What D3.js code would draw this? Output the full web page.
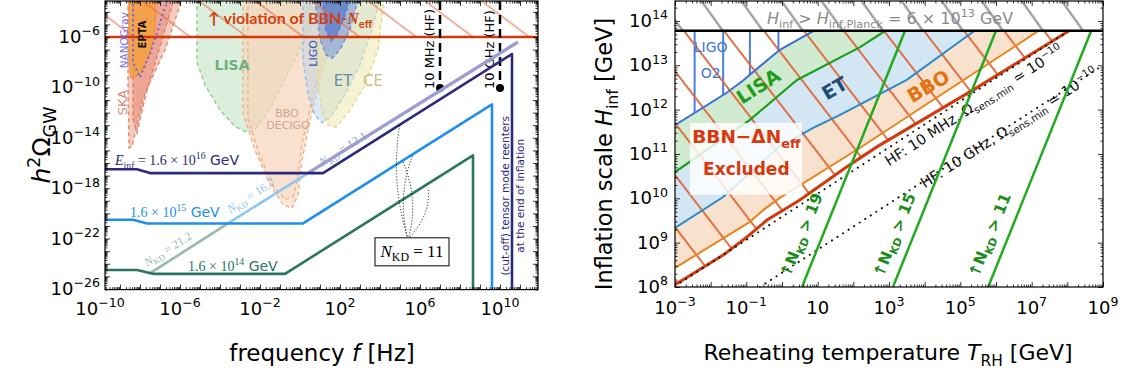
<!DOCTYPE html>
<html>
<head>
<meta charset="utf-8">
<script src="https://cdn.jsdelivr.net/npm/d3@7"></script>
<style>
  body { margin: 0; background: #fff; }
  text { font-family: "DejaVu Sans", sans-serif; white-space: pre; }
  .serif { font-family: "Liberation Serif", "DejaVu Serif", serif; }
  .lato { font-family: "Lato", "DejaVu Sans", sans-serif; }
</style>
</head>
<body>
<svg id="fig" width="1128" height="376"></svg>
<script>
// ---------- left panel: h^2 Omega_GW vs f (all values are log10) ----------
const freqDomain = [-9.75, 11.9];
const omegaDomain = [-26.05, -3.14];
const freqTickExp = [-10, -6, -2, 2, 6, 10];
const omegaTickExp = [-26, -22, -18, -14, -10, -6];
const bbnOmegaExp = -6;
const hfFreqExp = [7, 10];
const hfLabels = ["10 MHz (HF)", "10 GHz (HF)"];
const hfDotOmegaExp = -10.05;

const specE16 = [[-9.75,-16.5],[-8.15,-16.5],[-7.5,-16.8],[1.15,-16.8],[10.6,-7.35],[10.6,-27]];
const specE15 = [[-9.75,-20.5],[-8.35,-20.5],[-7.65,-20.8],[0.15,-20.8],[9.6,-11.35],[9.6,-27]];
const specE14 = [[-9.75,-24.5],[-8.15,-24.5],[-7.35,-24.8],[-0.75,-24.8],[8.65,-15.4],[8.65,-27]];
const kdLine212 = [[-7.55,-24.8],[-3.6,-20.8]];
const kdLine167 = [[-3.6,-20.8],[0.4,-16.8]];
const kdLine121 = [[0.4,-16.8],[10.9,-6.4]];

// sensitivity curves (log10 f, log10 h^2 Omega)
const skaOuter = [[-8.6,-3],[-8.6,-10],[-8.55,-14.8],[-8.4,-14.7],[-7.85,-10.8],[-6.75,-7.0],[-5.9,-3]];
const skaInner = [[-8.35,-3],[-8.35,-12.5],[-8.15,-13.6],[-7.7,-10.5],[-6.9,-6.2],[-6.3,-3]];
const epta = [[-8.55,-3],[-8.55,-7.8],[-8.45,-9.25],[-8.0,-9.0],[-7.5,-7.4],[-7.25,-5.4],[-7.2,-3]];
const nanograv = [[-8.35,-3],[-8.35,-8.0],[-8.0,-9.2],[-7.5,-7.3],[-7.15,-5.7],[-6.85,-4.1],[-6.6,-3]];
const lisaL = [[-5.15,-3],[-5.15,-8.0],[-4.75,-9.8],[-4.0,-11.8],[-3.25,-13.1],[-2.65,-13.55],[-2.25,-13.4],[-1.9,-12.6],[-1.4,-11.4],[-0.75,-9.3],[0.0,-7.0],[0.9,-4.2],[1.3,-3]];
const bboL = [[-2.85,-3],[-2.85,-12.0],[-2.25,-15.0],[-1.5,-17.7],[-0.85,-19.3],[-0.4,-19.6],[-0.1,-18.5],[0.1,-15.8],[0.5,-12.6],[1.0,-9.4],[1.75,-5.4],[2.25,-3]];
const decigoL = [[-2.6,-3],[-2.6,-12.5],[-2.0,-15.5],[-1.3,-17.9],[-0.75,-18.9],[-0.35,-18.7],[-0.15,-17.5],[0.1,-14.5],[0.6,-11],[1.2,-7.5],[1.8,-3]];
const etL = [[0.15,-3],[0.15,-7.8],[0.4,-10.6],[0.75,-12.2],[1.1,-12.8],[1.5,-12.4],[2.25,-10.6],[3.0,-8.2],[3.6,-5.4],[4.0,-3]];
const ceL = [[0.9,-3],[0.9,-9.4],[1.1,-11.8],[1.4,-13.0],[1.8,-13.15],[2.5,-11.8],[3.25,-9.8],[3.9,-7.0],[4.2,-3]];
const ligoOuter = [[0.75,-3],[1.0,-6.2],[1.3,-7.4],[1.6,-7.7],[2.0,-7.0],[2.5,-5.4],[2.9,-3]];
const ligoInner = [[1.1,-3],[1.3,-5.5],[1.55,-6.3],[1.85,-5.8],[2.2,-4.5],[2.5,-3]];

const nkdBoxAt = [5.6, -23.05];
const nkdArcFrom = [5.4, -22.05];
const nkdArcTo = [[5.0,-12.9],[5.15,-15.9],[5.65,-15.3],[6.4,-17.95]];

// ---------- right panel: H_inf vs T_RH (log10 GeV) ----------
const trhDomain = [-3, 9];
const hinfDomain = [8, 14.45];
const trhTickExp = [-3, -1, 1, 3, 5, 7, 9];
const hinfTickExp = [8, 9, 10, 11, 12, 13, 14];
const hPlanckExp = 13.78;
const ligoO2 = [[-3,11.65],[-1.55,12.38],[-1.1,12.65],[-0.81,12.85],[-0.06,13.35],[0.9,13.78]];
const ligoHatchT = [-2.45, -1.65, -0.9, -0.1];
const lisaR = [[-3,10.59],[-0.9,11.77],[0.42,12.67],[2.19,13.41],[2.9,13.78]];
const etR = [[-3,9.33],[-1.65,10.03],[-0.1,11.15],[0.9,11.6],[1.63,11.88],[3.5,12.67],[5.4,13.78]];
const bboR = [[-3,8.43],[-0.9,9.47],[-0.5,9.75],[-0.06,10.01],[2.19,11.14],[7.2,13.78]];
const bbnR = [[-3,8.05],[-1.65,8.72],[-0.98,9.13],[-0.42,9.51],[0.5,9.96],[1.82,10.71],[2.66,11.16],[5.35,12.44],[8.05,13.78]];
const hf10MHz = [[-3,8.02],[8.05,13.78]];
const hf10GHz = [[-0.62,8.0],[9.0,13.0]];
const hfTextAt = [[3.0,10.72],[4.0,10.22]];
const hfTextLabel = ["HF: 10 MHz, \u03a9", "HF: 10 GHz, \u03a9"];
const nkdCutLabels = ["19", "15", "11"];
const nkdCutT0 = [0.56, 3.11, 5.78];
const nkdCutT1 = [3.45, 6.0, 8.67];
const nkdCutTextT = [0.22, 2.83, 5.5];

const svg = d3.select("#fig");
const defs = svg.append("defs");

function hatch(id, spacing, angle, color, width) {
  const p = defs.append("pattern").attr("id", id)
    .attr("patternUnits", "userSpaceOnUse")
    .attr("width", 10).attr("height", spacing)
    .attr("patternTransform", `rotate(${angle})`);
  p.append("line").attr("x1", 0).attr("x2", 10)
    .attr("y1", spacing / 2).attr("y2", spacing / 2)
    .attr("stroke", color).attr("stroke-width", width);
}
hatch("hatchL", 34, 37, "#e2653f", 1);
hatch("hatchGrey", 32.6, 54.5, "#8d8d8d", 2);
hatch("hatchRed", 31.7, 52.4, "#e06a3e", 1.9);

// text with sub/superscripts
function rich(g, parts, size) {
  const t = g.append("text").attr("font-size", size);
  let cur = 0;
  parts.forEach(p => {
    const s = Array.isArray(p) ? p[0] : p, k = Array.isArray(p) ? p[1] : "";
    let off = 0, fs = size;
    if (k.includes("sub")) { off = 0.25 * size; fs = 0.7 * size; }
    if (k.includes("sup")) { off = -0.42 * size; fs = 0.7 * size; }
    const ts = t.append("tspan").attr("dy", off - cur).attr("font-size", fs).text(s);
    if (k.includes("it")) ts.attr("font-style", "italic");
    if (k.includes("serif")) ts.attr("class", "serif");
    cur = off;
  });
  return t;
}

function frame(x, y, xd, yd) {
  const [x0, x1] = x.range(), [yb, yt] = y.range();
  const g = svg.append("g");
  const minors = d => {
    const out = [];
    d3.range(Math.floor(d[0]), Math.ceil(d[1])).forEach(e =>
      d3.range(2, 10).forEach(k => { const v = e + Math.log10(k); if (v > d[0] && v < d[1]) out.push(v); }));
    return out;
  };
  const majors = d => d3.range(Math.ceil(d[0]), Math.floor(d[1]) + 1);
  const sides = [
    [d3.axisBottom(x), `translate(0,${yb})`, xd], [d3.axisTop(x), `translate(0,${yt})`, xd],
    [d3.axisLeft(y), `translate(${x0},0)`, yd], [d3.axisRight(y), `translate(${x1},0)`, yd]
  ];
  sides.forEach(([ax, tr, d]) => {
    g.append("g").attr("transform", tr)
      .call(ax.tickValues(majors(d)).tickSizeInner(-5).tickSizeOuter(0).tickFormat(""))
      .call(s => s.select(".domain").remove());
    g.append("g").attr("transform", tr)
      .call(ax.tickValues(minors(d)).tickSizeInner(-2.5).tickSizeOuter(0).tickFormat(""))
      .call(s => s.select(".domain").remove());
  });
  g.selectAll(".tick line").attr("stroke", "#000").attr("stroke-width", 0.8);
  g.append("rect").attr("x", x0).attr("y", yt).attr("width", x1 - x0).attr("height", yb - yt)
    .attr("fill", "none").attr("stroke", "#000").attr("stroke-width", 1.2);
}

// ================= LEFT PANEL =================
const xL = d3.scaleLinear().domain(freqDomain).range([105, 538]);
const yL = d3.scaleLinear().domain(omegaDomain).range([289.6, 1]);
defs.append("clipPath").attr("id", "clipL").append("rect")
  .attr("x", xL.range()[0]).attr("y", yL.range()[1])
  .attr("width", xL.range()[1] - xL.range()[0]).attr("height", yL.range()[0] - yL.range()[1]);
const gL = svg.append("g").attr("clip-path", "url(#clipL)");
const lineL = d3.line().x(d => xL(d[0])).y(d => yL(d[1]));

const regionsL = [
  [skaOuter, "#eea08a", 0.55, "#e08a72"],
  [skaInner, "#e27a60", 0.45, "#d9806a"],
  [lisaL, "#bfe2bf", 0.55, "#8ccc8c"],
  [bboL, "#f8d4b8", 0.55, "#efb088"],
  [decigoL, "#f8d4b8", 0.3, "#efb088"],
  [etL, "#b9d3e6", 0.5, "#92c0e8"],
  [ceL, "#ece8aa", 0.5, "#e0d98a"],
  [ligoOuter, "#7c98da", 0.6, "#6c8ee0"],
  [ligoInner, "#4a6cc8", 0.6, "#5a7ad8"]
];
regionsL.forEach(([pts, fill, op, stroke]) => {
  gL.append("path").attr("d", lineL(pts) + "Z").attr("fill", fill).attr("fill-opacity", op)
    .attr("stroke", stroke).attr("stroke-width", 1.4).attr("stroke-dasharray", "4,3");
});
gL.append("path").attr("d", lineL(epta) + "Z").attr("fill", "#f5a040").attr("fill-opacity", 0.85)
  .attr("stroke", "#f09030").attr("stroke-width", 1);
gL.append("path").attr("d", lineL(nanograv)).attr("fill", "none")
  .attr("stroke", "#6a62ee").attr("stroke-width", 2).attr("stroke-dasharray", "2,3");

// BBN excluded hatch + bound
gL.append("rect").attr("x", xL.range()[0]).attr("y", yL.range()[1])
  .attr("width", xL.range()[1] - xL.range()[0]).attr("height", yL(bbnOmegaExp) - yL.range()[1])
  .attr("fill", "url(#hatchL)");
gL.append("line").attr("x1", xL.range()[0]).attr("x2", xL.range()[1])
  .attr("y1", yL(bbnOmegaExp)).attr("y2", yL(bbnOmegaExp))
  .attr("stroke", "#d2380c").attr("stroke-width", 2.5);
rich(gL, ["\u2191 violation of BBN-", ["N", "it serif"], ["eff", "sub"]], 16)
  .attr("class", "lato").attr("x", xL(-4.6)).attr("y", 24).attr("fill", "#d4400f").attr("font-weight", "bold");

// HF detector markers
hfFreqExp.forEach((f, i) => {
  gL.append("line").attr("x1", xL(f)).attr("x2", xL(f))
    .attr("y1", yL.range()[1]).attr("y2", yL(hfDotOmegaExp))
    .attr("stroke", "#000").attr("stroke-width", 2.5).attr("stroke-dasharray", "9,5");
  gL.append("circle").attr("cx", xL(f)).attr("cy", yL(hfDotOmegaExp)).attr("r", 4).attr("fill", "#000");
  gL.append("text").attr("font-size", 13).attr("fill", "#000")
    .attr("transform", `translate(${xL(f) - 6},${yL(hfDotOmegaExp) + 1}) rotate(-90)`)
    .text(hfLabels[i]);
});

// spectra
[[kdLine212, "#97b9ac", 2.6], [kdLine167, "#8ec6ef", 2.6], [kdLine121, "#9d9dd0", 3.4]].forEach(([d, c, w]) =>
  gL.append("path").attr("d", lineL(d)).attr("fill", "none").attr("stroke", c).attr("stroke-width", w));
[[specE16, "#2b2a7c"], [specE15, "#1f8fea"], [specE14, "#2a7562"]].forEach(([d, c]) =>
  gL.append("path").attr("d", lineL(d)).attr("fill", "none").attr("stroke", c)
    .attr("stroke-width", 2.6).attr("stroke-linejoin", "round"));

// labels on spectra
rich(gL, [["E", "it serif"], ["inf", "sub serif"], [" = 1.6 \u00d7 10", "serif"], ["16", "sup serif"], [" GeV", ""]], 14)
  .attr("x", xL(-9.25)).attr("y", yL(-16.16)).attr("fill", "#2b2a7c");
rich(gL, [["1.6 \u00d7 10", "serif"], ["15", "sup serif"], [" GeV", ""]], 14)
  .attr("x", xL(-8.5)).attr("y", yL(-20.3)).attr("fill", "#1f8fea");
rich(gL, [["1.6 \u00d7 10", "serif"], ["14", "sup serif"], [" GeV", ""]], 14)
  .attr("x", xL(-5.6)).attr("y", yL(-24.57)).attr("fill", "#2a7562");
const kdAngle = Math.atan2(yL(-20) - yL(-21), xL(1) - xL(0)) * 180 / Math.PI;
[[[-6.5, -23.1], "21.2", "#97b9ac"], [[-2.35, -18.86], "16.7", "#8ec6ef"], [[2.25, -15.13], "12.1", "#9d9dd0"]].forEach(([p, v, c]) => {
  rich(gL, [["N", "it serif"], ["KD", "sub serif"], [" = " + v, "serif"]], 12)
    .attr("text-anchor", "middle").attr("fill", c)
    .attr("transform", `translate(${xL(p[0])},${yL(p[1])}) rotate(${kdAngle})`);
});

// N_KD = 11 annotation
nkdArcTo.forEach((p, i) => {
  const x0 = xL(nkdArcFrom[0]), y0 = yL(nkdArcFrom[1]), x1 = xL(p[0]), y1 = yL(p[1]);
  const bend = i % 2 === 0 ? -14 : 14;
  gL.append("path").attr("d", `M${x0},${y0} Q${(x0 + x1) / 2 + bend},${(y0 + y1) / 2} ${x1},${y1}`)
    .attr("fill", "none").attr("stroke", "#000").attr("stroke-width", 1).attr("stroke-dasharray", "1,2");
});
gL.append("rect").attr("x", xL(nkdBoxAt[0]) - 37).attr("y", yL(nkdBoxAt[1]) - 14)
  .attr("width", 74).attr("height", 28).attr("fill", "#fff").attr("stroke", "#000").attr("stroke-width", 1);
rich(gL, [["N", "it serif"], ["KD", "sub serif"], [" = 11", "serif"]], 17)
  .attr("x", xL(nkdBoxAt[0])).attr("y", yL(nkdBoxAt[1]) + 5).attr("text-anchor", "middle").attr("fill", "#000");

// cut-off text
const cut = gL.append("text").attr("font-size", 10.5).attr("fill", "#2b2a7c")
  .attr("text-anchor", "middle")
  .attr("transform", `translate(${xL(10.45)},${yL(-18.6)}) rotate(-90)`);
cut.append("tspan").attr("x", 0).attr("dy", 0).text("(cut-off) tensor mode reenters");
cut.append("tspan").attr("x", 0).attr("dy", 15).text("at the end of inflation");

// region labels
const lbl = (t, x, y, size, color, rot, weight) =>
  gL.append("text").attr("text-anchor", "middle").attr("font-size", size).attr("fill", color)
    .attr("font-weight", weight || "normal")
    .attr("transform", `translate(${xL(x)},${yL(y)}) rotate(${rot})`).text(t);
lbl("SKA", -8.65, -11.2, 13, "#d98a78", -90);
lbl("NANOGrav", -8.6, -6.25, 10.5, "#7a6ff0", -90);
lbl("EPTA", -7.7, -5.8, 10, "#111", -90, "bold");
lbl("LISA", -3.4, -8.65, 14, "#6eae7e", 0, "bold");
lbl("BBO", -0.65, -12.35, 11, "#c9a792", 0);
lbl("DECIGO", -0.6, -13.3, 11, "#c9a792", 0);
lbl("LIGO", 0.85, -7.3, 11, "#3355aa", -90);
lbl("ET", 2.15, -9.9, 15, "#6a8aa8", 0);
lbl("CE", 3.65, -9.9, 15, "#c7bf83", 0);

frame(xL, yL, freqDomain, omegaDomain);
freqTickExp.forEach(v => rich(svg, ["10", [String(v).replace("-", "\u2212"), "sup"]], 18)
  .attr("x", xL(v)).attr("y", 315).attr("text-anchor", "middle"));
omegaTickExp.forEach(v => rich(svg, ["10", [String(v).replace("-", "\u2212"), "sup"]], 18)
  .attr("x", 100).attr("y", yL(v) + 6).attr("text-anchor", "end"));
rich(svg, [["h", "it"], ["2", "sup"], ["\u03a9", ""], ["GW", "sub"]], 25)
  .attr("text-anchor", "middle").attr("transform", "translate(50,145) rotate(-90)");
rich(svg, ["frequency ", ["f", "it"], " [Hz]"], 23)
  .attr("text-anchor", "middle").attr("x", 322).attr("y", 361);

// ================= RIGHT PANEL =================
const xR = d3.scaleLinear().domain(trhDomain).range([675, 1103]);
const yR = d3.scaleLinear().domain(hinfDomain).range([287, 1]);
defs.append("clipPath").attr("id", "clipR").append("rect")
  .attr("x", xR.range()[0]).attr("y", yR.range()[1])
  .attr("width", xR.range()[1] - xR.range()[0]).attr("height", yR.range()[0] - yR.range()[1]);
const gR = svg.append("g").attr("clip-path", "url(#clipR)");
const lineR = d3.line().x(d => xR(d[0])).y(d => yR(d[1]));
const areaR = d3.area().x(d => xR(d[0])).y0(yR(hPlanckExp)).y1(d => yR(d[1]));

[[bboR, "#f9e2cd"], [etR, "#d2e6f4"], [lisaR, "#d0ebd0"], [ligoO2, "#ffffff"]].forEach(([c, f]) =>
  gR.append("path").attr("d", areaR(c)).attr("fill", f));

const interp = (curve, t) => {
  for (let i = 1; i < curve.length; i++) {
    const [a, b] = [curve[i - 1], curve[i]];
    if (t <= b[0]) return a[1] + (b[1] - a[1]) * (t - a[0]) / (b[0] - a[0]);
  }
  return curve[curve.length - 1][1];
};
ligoHatchT.forEach(t =>
  gR.append("line").attr("x1", xR(t)).attr("x2", xR(t))
    .attr("y1", yR(hPlanckExp)).attr("y2", yR(interp(ligoO2, t)))
    .attr("stroke", "#4a7ee0").attr("stroke-width", 2));

defs.append("clipPath").attr("id", "clipBBN").append("path").attr("d", areaR(bbnR));
gR.append("rect").attr("x", xR.range()[0]).attr("y", yR(hPlanckExp))
  .attr("width", xR.range()[1] - xR.range()[0]).attr("height", yR.range()[0] - yR(hPlanckExp))
  .attr("fill", "url(#hatchRed)").attr("clip-path", "url(#clipBBN)");

[[ligoO2, "#3d6fd6", 2], [lisaR, "#1e9e1e", 2.2], [etR, "#2a8bcb", 2], [bboR, "#e8841c", 2], [bbnR, "#d23a0c", 3]]
  .forEach(([c, col, w]) => gR.append("path").attr("d", lineR(c)).attr("fill", "none")
    .attr("stroke", col).attr("stroke-width", w));

// BBN box
gR.append("rect").attr("x", xR(-2.58)).attr("y", yR(11.7))
  .attr("width", xR(0.56) - xR(-2.58)).attr("height", yR(10.08) - yR(11.7))
  .attr("fill", "#fff").attr("fill-opacity", 0.82);
rich(gR, ["BBN\u2212\u0394N", ["eff", "sub"]], 18.5).attr("x", xR(-1.0)).attr("y", yR(11.25))
  .attr("text-anchor", "middle").attr("fill", "#d8380e").attr("font-weight", "bold");
rich(gR, ["Excluded"], 17).attr("x", xR(-1.0)).attr("y", yR(10.53))
  .attr("text-anchor", "middle").attr("fill", "#d8380e").attr("font-weight", "bold");

// HF dotted lines
[hf10MHz, hf10GHz].forEach((c, i) => {
  gR.append("path").attr("d", lineR(c)).attr("fill", "none").attr("stroke", "#111")
    .attr("stroke-width", 2).attr("stroke-linecap", "round").attr("stroke-dasharray", "0.1,6.5");
  const ang = Math.atan2(yR(c[1][1]) - yR(c[0][1]), xR(c[1][0]) - xR(c[0][0])) * 180 / Math.PI;
  rich(gR, [hfTextLabel[i], ["sens,min", "sub"], " \u2243 10", ["\u221210", "sup"]], 14.5)
    .attr("fill", "#111")
    .attr("transform", `translate(${xR(hfTextAt[i][0])},${yR(hfTextAt[i][1])}) rotate(${ang})`);
});

// N_KD cut lines
nkdCutLabels.forEach((v, i) => {
  const c = [[nkdCutT0[i], hinfDomain[0]], [nkdCutT1[i], hPlanckExp]];
  gR.append("path").attr("d", lineR(c)).attr("fill", "none").attr("stroke", "#22aa22").attr("stroke-width", 2.5);
  const ang = Math.atan2(yR(c[1][1]) - yR(c[0][1]), xR(c[1][0]) - xR(c[0][0])) * 180 / Math.PI;
  rich(gR, ["\u2191N", ["KD", "sub"], " > " + v], 15.5)
    .attr("fill", "#1c8c1c").attr("font-weight", "bold")
    .attr("transform", `translate(${xR(nkdCutTextT[i])},${yR(8.2)}) rotate(${ang})`);
});

// region labels
const lblR = (t, x, y, size, color, rot, weight) =>
  gR.append("text").attr("text-anchor", "middle").attr("font-size", size).attr("fill", color)
    .attr("font-weight", weight || "bold")
    .attr("transform", `translate(${xR(x)},${yR(y)}) rotate(${rot})`).text(t);
lblR("LIGO", -2.0, 13.3, 14, "#3f72dc", 0, "normal");
lblR("O2", -2.0, 12.71, 14, "#3f72dc", 0, "normal");
lblR("LISA", -0.56, 12.4, 19, "#1e9e1e", -33);
lblR("ET", 1.57, 12.35, 19, "#1c4c78", -30);
lblR("BBO", 4.2, 12.4, 19, "#e2740f", -30);

// Planck bound
gR.append("rect").attr("x", xR.range()[0]).attr("y", yR.range()[1])
  .attr("width", xR.range()[1] - xR.range()[0]).attr("height", yR(hPlanckExp) - yR.range()[1])
  .attr("fill", "#fff");
gR.append("rect").attr("x", xR.range()[0]).attr("y", yR.range()[1])
  .attr("width", xR.range()[1] - xR.range()[0]).attr("height", yR(hPlanckExp) - yR.range()[1])
  .attr("fill", "url(#hatchGrey)");
rich(gR, [["H", "it"], ["inf", "sub"], " > ", ["H", "it"], ["inf,Planck", "sub"], " = 6 \u00d7 10", ["13", "sup"], " GeV"], 16)
  .attr("x", xR(-0.42)).attr("y", 24).attr("fill", "#8a8a8a");
gR.append("line").attr("x1", xR.range()[0]).attr("x2", xR.range()[1])
  .attr("y1", yR(hPlanckExp)).attr("y2", yR(hPlanckExp)).attr("stroke", "#000").attr("stroke-width", 2.5);

frame(xR, yR, trhDomain, hinfDomain);
trhTickExp.forEach(v => {
  const parts = v === 1 ? ["10"] : ["10", [String(v).replace("-", "\u2212"), "sup"]];
  rich(svg, parts, 18).attr("x", xR(v)).attr("y", 314).attr("text-anchor", "middle");
});
hinfTickExp.forEach(v => rich(svg, ["10", [String(v), "sup"]], 18)
  .attr("x", 668).attr("y", yR(v) + 6).attr("text-anchor", "end"));
rich(svg, ["Inflation scale ", ["H", "it"], ["inf", "sub"], " [GeV]"], 22.5)
  .attr("text-anchor", "middle").attr("transform", "translate(612,154) rotate(-90)");
rich(svg, ["Reheating temperature ", ["T", "it"], ["RH", "sub"], " [GeV]"], 22)
  .attr("text-anchor", "middle").attr("x", 888).attr("y", 360);
</script>
</body>
</html>
